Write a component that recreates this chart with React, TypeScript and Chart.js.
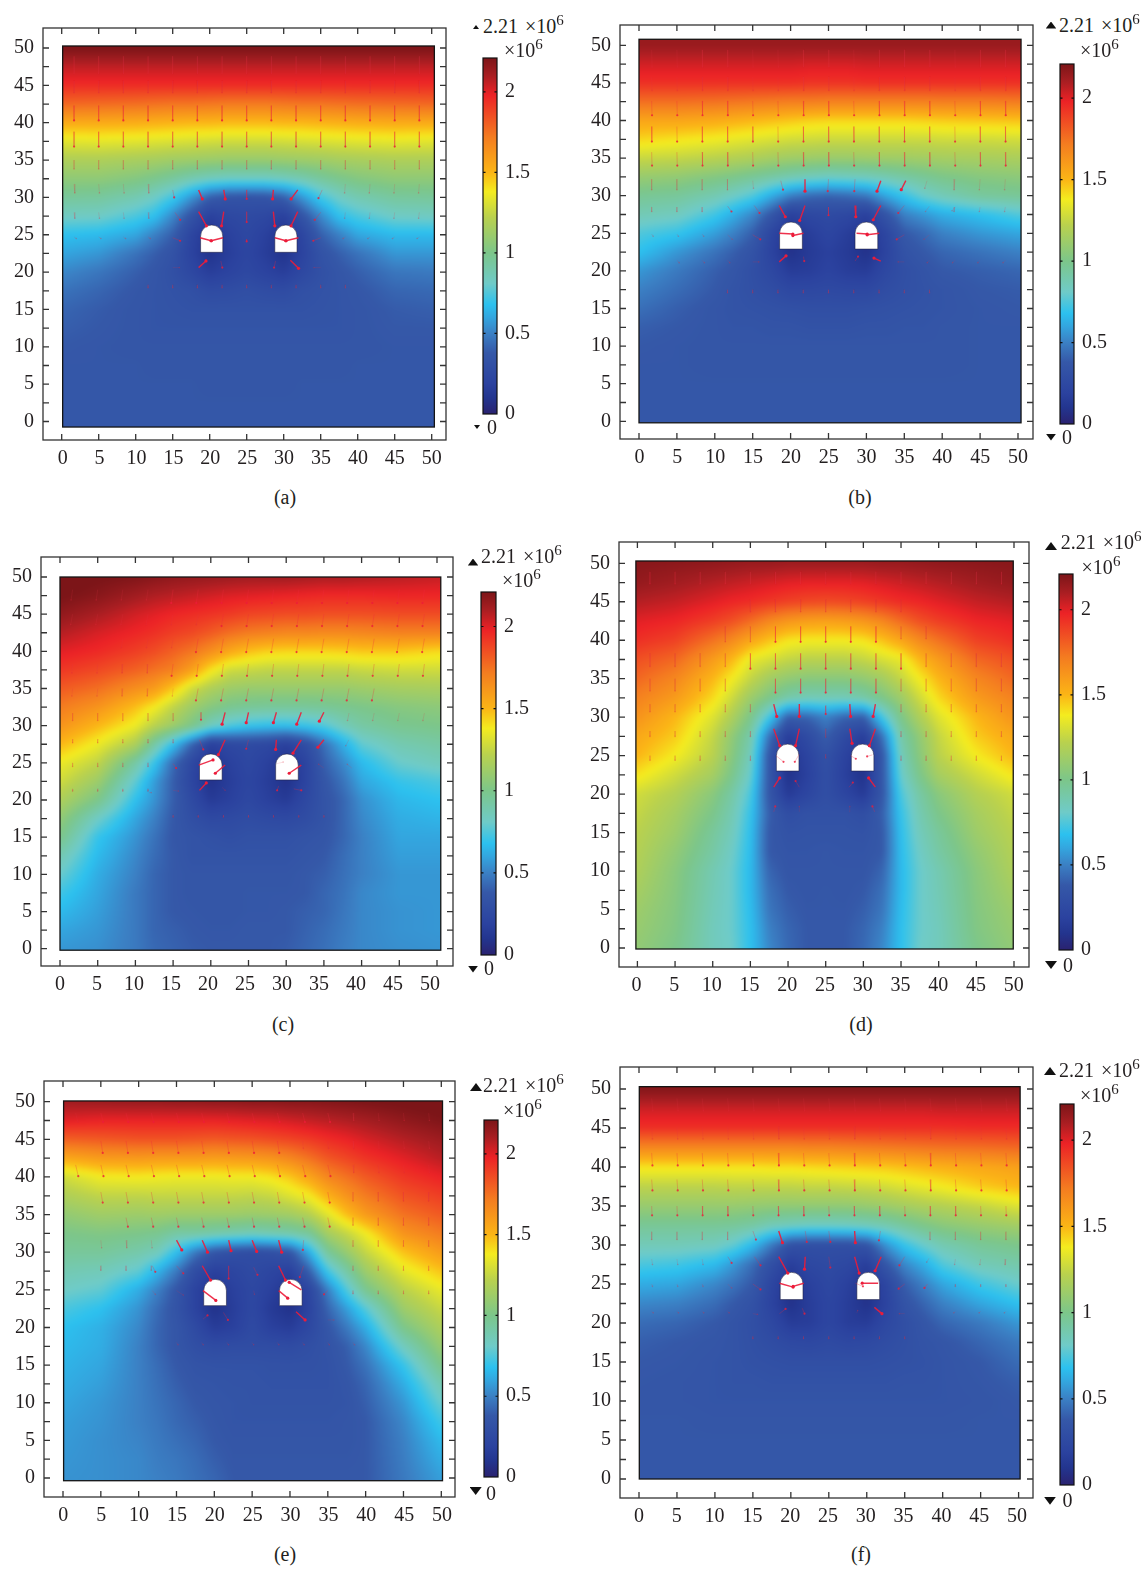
import React, { useEffect, useRef } from "react";
import { Chart, registerables } from "chart.js";

Chart.register(...registerables);

const FONT = '"Liberation Serif", serif';
const INK = "#231f20";

const gridX = [0, 5, 10, 12.5, 15, 17.5, 20, 22.5, 25, 27.5, 30, 32.5, 35, 37.5, 40, 45, 50];
const gridY = [50, 47.5, 45, 42.5, 40, 37.5, 35, 32.5, 30, 27.5, 25, 22.5, 20, 17.5, 15, 12.5, 10, 7.5, 5, 2.5, 0];
const xTickValues = [0, 5, 10, 15, 20, 25, 30, 35, 40, 45, 50];
const yTickValues = [0, 2.5, 5, 7.5, 10, 12.5, 15, 17.5, 20, 22.5, 25, 27.5, 30, 32.5, 35, 37.5, 40, 42.5, 45, 47.5, 50];
const barTickValues = [0, 0.5, 1, 1.5, 2];
const barMax = 2.21;
const arrowCols = [1.67, 5, 8.33, 11.67, 15, 18.33, 21.67, 25, 28.33, 31.67, 35, 38.33, 41.67, 45, 48.33];

const colourValues = [0, 10, 19, 38, 50, 60, 68, 81, 100, 122, 138, 150, 172, 198, 210, 221];
const colourHex = ["#2a2270", "#23358f", "#2b429f", "#3558a8", "#3b80c4", "#33a6df", "#2cc1ef", "#6fcbc8", "#7cc68a", "#b9d14e", "#f4ec1f", "#fbb516", "#f47c20", "#ec2226", "#a91e22", "#7c1518"];

const heatA = [
[221,221,221,221,221,221,221,221,221,221,221,221,221,221,221,221,221],
[206,206,206,206,206,206,206,206,206,206,206,206,206,206,206,206,206],
[195,195,195,195,195,195,195,195,195,195,195,195,195,195,195,195,195],
[178,177,176,175,174,174,173,172,172,172,173,174,174,175,176,177,178],
[154,154,153,152,151,150,150,149,149,149,150,150,151,152,153,154,154],
[133,134,133,132,131,130,129,128,128,128,129,130,131,132,133,134,133],
[118,118,116,115,113,112,111,110,110,110,111,112,113,115,116,118,118],
[107,107,103,99,94,88,84,82,82,82,84,88,94,99,103,107,107],
[95,94,88,82,72,56,40,34,33,34,40,56,72,82,88,94,95],
[83,82,74,68,52,34,18,24,26,24,18,34,52,68,74,82,83],
[68,66,60,50,40,22,10,18,24,18,10,22,40,50,60,66,66],
[60,56,46,40,33,20,9,16,22,16,9,20,33,40,46,56,56],
[52,47,40,36,31,24,16,20,24,20,16,24,31,36,40,47,48],
[46,42,37,35,33,31,27,28,30,28,27,31,33,35,37,42,43],
[42,39,36,35,34,33,33,33,33,33,33,33,34,35,36,39,40],
[40,38,36,35,35,35,35,35,35,35,35,35,35,35,36,38,38],
[38,37,36,36,36,36,36,36,36,36,36,36,36,36,36,37,37],
[37,37,37,36,36,36,36,36,36,36,36,36,36,36,37,37,37],
[37,37,37,37,37,37,36,36,36,36,36,37,37,37,37,37,37],
[37,37,37,37,37,37,37,37,37,37,37,37,37,37,37,37,37],
[37,37,37,37,37,37,37,37,37,37,37,37,37,37,37,37,37],
];
const heatB = [
[214,214,214,214,214,214,214,214,214,214,214,214,214,214,214,214,214],
[203,203,203,203,203,203,203,202,202,202,203,203,203,203,203,203,203],
[194,194,194,194,194,194,194,193,193,193,194,194,194,194,194,194,194],
[176,176,175,174,173,172,171,171,170,170,170,170,170,170,171,171,172],
[156,156,154,152,150,148,146,144,143,143,143,143,143,144,145,146,147],
[143,140,137,135,133,131,129,128,127,127,127,127,127,127,128,128,129],
[126,125,122,120,118,115,113,112,111,111,112,113,113,114,115,116,117],
[110,108,103,100,96,92,88,85,83,84,85,88,92,96,100,104,106],
[97,95,88,82,75,62,50,44,42,44,48,60,70,80,86,94,96],
[87,84,72,62,52,36,18,24,26,24,18,34,50,56,62,68,75],
[75,70,58,50,40,22,10,16,22,16,10,22,38,43,50,56,60],
[68,56,46,40,33,20,8,14,18,14,8,20,33,38,42,46,50],
[56,48,40,36,30,24,15,16,20,16,15,24,30,34,38,40,42],
[50,44,38,34,31,28,24,24,25,24,24,28,31,33,35,38,39],
[45,40,36,34,33,32,31,30,30,30,31,32,33,34,35,37,38],
[40,38,36,35,35,34,34,33,33,33,34,34,35,35,36,37,37],
[38,37,36,36,36,36,36,36,36,36,36,36,36,36,36,37,37],
[37,37,36,36,36,36,36,36,36,36,36,36,36,36,36,37,37],
[37,37,37,37,37,37,37,37,37,37,37,37,37,37,37,37,37],
[37,37,37,37,37,37,37,37,37,37,37,37,37,37,37,37,37],
[37,37,37,37,37,37,37,37,37,37,37,37,37,37,37,37,37],
];
const heatC = [
[225,222,220,218,216,215,214,213,212,212,212,211,210,210,209,207,205],
[222,218,212,209,207,205,203,201,200,199,198,197,196,196,196,197,197],
[216,210,203,200,197,195,193,191,188,187,186,186,185,185,185,186,186],
[208,202,197,194,190,187,182,176,172,170,168,168,167,167,168,170,170],
[200,196,190,186,180,174,165,155,148,144,143,143,143,144,146,146,142],
[192,187,180,175,170,158,140,128,126,124,124,124,124,124,126,128,128],
[182,176,165,160,146,128,118,112,110,110,110,110,110,110,112,115,116],
[172,163,148,138,124,112,104,98,96,95,95,95,96,98,100,104,106],
[163,150,136,122,112,100,84,75,70,68,68,70,75,85,92,98,100],
[150,136,118,92,68,42,18,24,26,24,18,28,45,62,78,88,92],
[136,124,92,70,44,24,10,18,24,18,10,20,40,52,66,80,85],
[128,112,78,58,40,22,8,16,22,16,8,20,36,46,60,70,74],
[118,100,68,55,40,26,14,18,24,18,14,24,34,42,54,65,68],
[108,82,60,50,38,30,25,26,28,26,25,28,34,42,52,62,64],
[100,70,55,46,37,34,32,30,32,32,32,34,36,42,50,60,60],
[88,66,52,44,38,34,34,34,34,34,34,36,38,44,50,58,58],
[80,62,50,42,38,36,36,36,36,36,36,38,40,45,50,56,56],
[72,60,48,42,38,36,36,36,37,37,37,38,42,46,52,56,56],
[66,58,48,42,38,37,36,36,37,37,38,40,42,47,52,55,56],
[60,56,48,42,40,38,37,37,38,38,38,41,44,48,52,55,56],
[56,54,48,43,41,39,38,38,38,38,39,42,45,49,52,54,55],
];
const heatD = [
[218,217,216,215,214,214,213,213,213,213,213,214,214,215,216,217,218],
[215,212,208,206,204,202,200,199,199,199,200,202,204,206,208,212,215],
[208,205,200,197,195,192,189,187,186,187,189,192,195,197,200,205,208],
[200,197,190,185,177,168,162,159,158,159,162,168,177,185,190,197,200],
[194,189,175,167,156,147,140,138,138,138,140,147,156,167,175,189,194],
[185,178,160,150,135,130,125,122,122,122,125,130,135,150,160,178,185],
[178,168,150,138,125,114,108,105,105,105,108,114,125,138,150,168,178],
[170,160,142,128,112,100,90,86,86,86,90,100,112,128,142,160,170],
[163,150,132,118,100,72,40,42,50,42,40,72,100,118,132,150,163],
[155,145,125,108,90,46,16,26,40,26,16,46,90,108,125,145,155],
[150,138,122,105,85,36,10,20,32,20,10,36,85,105,122,138,150],
[140,128,115,100,80,36,8,18,30,18,8,36,80,100,115,128,140],
[128,120,105,92,74,36,14,22,30,22,14,36,74,92,105,120,128],
[125,115,100,88,70,40,29,32,32,32,29,40,70,88,100,115,125],
[122,112,95,85,68,38,33,34,34,34,33,38,68,85,95,112,122],
[120,108,92,82,67,38,35,35,36,35,35,38,67,82,92,108,120],
[118,105,88,80,66,42,36,36,36,36,36,42,66,80,88,105,118],
[115,104,87,80,66,45,38,36,37,36,38,45,66,80,87,104,115],
[112,103,86,80,67,47,40,37,37,37,40,47,67,80,86,103,112],
[110,102,85,80,68,50,42,38,38,38,42,50,68,80,85,102,110],
[108,100,85,81,68,52,43,38,38,38,43,52,68,81,85,100,108],
];
const heatE = [
[212,213,214,214,215,215,216,216,217,217,218,218,219,220,221,223,224],
[200,198,198,198,198,198,198,199,200,201,203,205,207,209,211,216,220],
[180,182,184,184,184,183,182,183,184,186,188,191,195,198,202,208,213],
[155,160,161,160,160,160,159,160,161,163,168,175,183,188,193,200,207],
[128,137,138,137,136,136,136,137,137,140,146,156,168,175,182,192,198],
[118,124,124,125,125,125,125,125,124,126,132,138,152,163,172,184,190],
[108,113,112,113,112,112,112,112,111,112,114,120,133,148,160,175,182],
[100,102,100,98,92,92,90,88,86,88,90,95,115,125,137,163,172],
[95,95,90,85,68,48,35,30,28,30,35,62,95,110,125,147,160],
[88,86,78,64,48,28,18,22,26,22,18,40,72,92,112,134,147],
[82,78,62,50,36,20,10,18,24,18,10,22,50,75,98,122,135],
[74,68,55,44,34,20,8,16,24,14,8,20,42,58,76,112,126],
[68,63,52,42,36,26,15,18,26,18,15,24,36,48,62,100,118],
[66,62,50,42,36,30,27,28,28,28,27,30,34,40,52,84,110],
[64,60,50,44,38,34,33,33,33,32,32,32,33,38,46,70,100],
[62,58,50,45,40,36,35,34,34,33,33,33,33,36,42,62,88],
[60,56,50,46,42,38,36,35,34,34,34,34,34,35,40,56,80],
[58,55,50,47,43,40,37,35,35,35,35,35,35,36,38,52,72],
[57,54,51,48,45,42,38,36,36,36,36,36,36,36,38,50,66],
[56,54,52,49,47,44,40,37,37,37,37,37,37,37,38,49,62],
[55,54,52,50,48,45,42,38,38,38,38,38,38,38,38,48,58],
];
const heatF = [
[219,219,219,219,219,219,219,219,219,219,219,219,219,219,219,219,219],
[204,204,204,204,204,204,204,204,204,204,204,204,204,204,205,205,205],
[194,194,194,194,194,194,194,194,194,194,194,194,194,194,194,195,195],
[168,168,168,168,168,168,168,169,169,170,171,172,173,174,175,176,178],
[140,140,140,140,140,141,141,142,143,144,145,146,148,150,152,155,158],
[123,123,123,124,124,124,124,125,125,126,127,129,132,135,138,145,150],
[110,110,110,110,109,108,108,108,108,108,110,112,115,118,120,125,132],
[96,96,96,95,92,86,84,82,82,83,85,88,94,100,105,110,114],
[86,86,84,78,66,48,32,30,30,30,34,55,70,80,88,96,100],
[74,72,66,56,44,30,16,24,26,24,16,36,52,62,75,86,90],
[62,60,52,46,38,22,10,18,24,18,10,22,40,50,60,72,80],
[52,50,44,38,32,20,8,16,22,16,8,20,34,42,50,60,68],
[44,42,38,34,30,24,15,16,22,16,15,24,30,36,42,48,56],
[40,38,36,34,31,28,25,24,26,24,25,28,31,34,36,42,48],
[38,37,35,34,32,31,30,30,30,30,30,31,32,33,35,38,44],
[37,36,35,34,34,33,33,33,33,33,33,33,34,34,35,37,40],
[36,36,35,35,35,35,35,35,35,35,35,35,35,35,35,36,38],
[37,37,36,36,36,36,36,36,36,36,36,36,36,36,36,37,37],
[37,37,37,37,37,37,37,37,37,37,37,37,37,37,37,37,37],
[37,37,37,37,37,37,37,37,37,37,37,37,37,37,37,37,37],
[37,37,37,37,37,37,37,37,37,37,37,37,37,37,37,37,37],
];

// rows of arrows: [tail y, dx, dy, tier, first column, last column]
const rowsA = [[48.9,0,-2.3,2,0,14],[45.6,0,-1.6,2,0,14],[42.3,0,-2,1,0,14],[38.8,0,-2,1,0,14],[35,0,-1.2,2,0,14],[31.8,0.1,-1.2,2,0,3],[31.8,-0.1,-1.2,2,11,14],[28,0.1,-0.8,2,0,3],[28,-0.1,-0.8,2,11,14],[24.7,0.3,-0.2,2,0,3],[24.7,-0.3,-0.2,2,11,14],[18.3,0,-0.4,2,3,11]];
const spotsA = [[18.5,28.1,19.55,26.2,0],[21.9,28.1,21.6,26.2,0],[28.6,28.1,28.8,26.2,0],[31.9,28.1,31,26.2,0],[25,28.1,25,26.7,1],[18.5,31,19,29.8,0],[21.9,31,22.1,29.8,0],[25,31,25,29.8,1],[28.6,31,28.5,29.8,0],[31.9,31,31,29.8,0],[35.2,31,34.7,29.9,1],[15,31,15.2,30,1],[15.3,28,16,27,1],[35,28,34.2,27,1],[15,24.6,16,24.2,1],[35,24.6,34,24.2,1],[18.7,24.6,20.2,24.2,0],[21.8,24.6,20.2,24.2,0],[28.8,24.6,30.3,24.2,0],[32,24.6,30.3,24.2,0],[25,24.4,25,24.1,1],[18.5,20.6,19.5,21.5,0],[21.5,21.5,21.7,20.6,1],[28.9,21.5,28.7,20.6,1],[30.9,21.6,32,20.5,0],[15,20.6,15.9,20.6,2],[35,20.6,34.1,20.6,2]];
const rowsB = [[49.4,0.05,-2.3,2,0,14],[45.8,0.05,-1.8,2,0,14],[42.6,0.05,-1.9,1,0,14],[39.2,0.03,-2,1,0,14],[35.8,0.05,-1.8,1,0,14],[32.2,0,-1.4,2,0,3],[32.2,-0.1,-1.4,2,12,14],[28.5,0,-0.6,2,0,2],[28.5,-0.1,-0.6,2,12,14],[24.9,0.2,-0.3,2,0,2],[21.4,0.3,-0.3,2,1,3],[21.4,-0.3,-0.3,2,11,14],[17.5,0,-0.4,2,3,11]];
const spotsB = [[18.5,28.7,19.3,27.2,0],[21.9,28.7,21.2,26.7,0],[28.5,28.7,28.6,27.2,0],[31.9,28.7,30.9,26.8,0],[25,28.5,25,27.4,1],[15.2,28.7,15.9,27.7,1],[35,28.7,34.2,27.7,1],[11.7,28.6,12.2,27.9,1],[38.3,28.6,37.8,27.9,2],[41.7,28.5,41.3,28,2],[18.7,32,19,30.8,1],[21.9,32.2,21.9,30.6,0],[25,32.2,24.9,30.6,1],[28.5,32.2,28.4,30.6,1],[31.9,32,31.4,30.6,0],[35.2,32,34.6,30.8,0],[15,32,15.1,31,2],[38,32,37.7,31,2],[15,24.8,16,24.2,1],[35,24.8,34,24.2,1],[11.7,24.8,12.3,24.2,2],[38.3,24.8,37.6,24.2,2],[18.5,25,20.3,24.9,0],[21.7,25,20.3,24.7,0],[28.7,25,30.1,24.9,0],[31.7,25,30.1,24.8,0],[18.5,21.2,19.4,22,0],[21.7,21.9,21.8,21.3,1],[28.5,21.3,28.9,21.9,1],[31.9,21.3,31,21.7,0],[15,21.2,15.8,21.2,2],[35,21.2,34.2,21.2,2]];
const rowsC = [[48.3,-0.2,-1.4,2,0,3],[48.3,-0.25,-1.8,1,4,14],[45,-0.25,-1.4,2,0,5],[45,-0.25,-1.6,1,6,14],[41.7,-0.2,-1.2,2,2,4],[41.7,-0.3,-1.8,1,5,14],[38.3,-0.1,-1.2,2,0,3],[38.3,-0.2,-1.6,1,4,14],[35,-0.1,-1,2,0,4],[35,-0.3,-1.6,1,5,12],[31.7,0,-1,2,0,4],[31.7,-0.2,-1,2,11,14],[28.2,0,-0.5,2,0,4],[25,0,-0.5,2,0,3],[21.5,0,-0.3,2,0,3],[18,0,-0.3,2,4,10]];
const spotsC = [[21.9,28.1,21,26.1,0],[32,28.1,30.9,26.3,0],[28.7,28.1,28.6,26.8,0],[18.5,28.1,19,26.8,1],[25,28.1,24.7,26.9,1],[35,28.1,34.2,27.1,0],[38.3,28.1,37.9,27.3,2],[21.9,31.8,21.5,30.2,0],[25,31.8,24.7,30.4,0],[28.7,31.8,28.3,30.4,0],[32,31.8,31.4,30.2,0],[35,31.8,34.4,30.6,0],[18.7,31.8,18.7,30.8,1],[18.4,24.7,20.3,25.4,0],[21.9,24.7,20.6,23.6,0],[32,24.7,30.4,23.6,0],[28.8,24.9,29.6,25.1,2],[15,24.9,15.4,24.3,1],[35,24.3,34.3,24.8,2],[38.7,24.3,38.1,24.8,2],[18.5,21.3,19.4,22.3,0],[21.5,21.7,21.9,21.3,2],[29,21.9,28.8,21.3,1],[31,21.5,32,21.3,1],[15,21.3,15.7,21.2,2],[11.8,21,12.1,21,2]];
const rowsD = [[48.9,0,-1.6,2,0,14],[45.3,0,-1.6,2,4,10],[41.8,0,-2,2,3,4],[41.8,0,-2,1,5,9],[41.8,0,-1.6,2,10,11],[38.3,0,-1.7,2,0,3],[38.3,0,-2,1,4,10],[38.3,0,-1.7,2,11,14],[35,0,-1.6,2,0,3],[35,0,-1.8,1,5,9],[35,0,-1.6,2,10,14],[31.7,0,-1,2,0,4],[31.7,0,-1,2,10,14],[28.2,0,-0.7,2,0,4],[28.2,0,-0.7,2,10,14],[25,0,-0.6,2,0,4],[25,0,-0.6,2,10,14]];
const spotsD = [[18.1,28.5,18.9,26.3,0],[21.5,28.5,21,26.3,0],[28.2,28.5,28.5,26.6,0],[31.6,28.5,30.8,26.3,0],[18.1,31.7,18.5,30.1,0],[21.5,31.7,21.5,30.1,0],[25,31.5,25,30.4,1],[28.2,31.7,28.3,30.1,0],[31.6,31.7,31.3,30.1,0],[18.4,25,19.4,24.2,1],[21.5,25.2,20.9,24.2,1],[28.3,25,29,24.6,1],[31.2,25.1,30.5,24.9,1],[25,25.2,25,24.7,2],[18.1,20.9,18.9,22.1,0],[21.5,20.9,21,21.7,1],[28.1,20.9,28.6,21.5,1],[31.6,20.9,30.7,22.1,0],[18.1,17.7,18.3,18.4,1],[21.5,17.7,21.5,18.4,2],[28.1,17.7,28.2,18.4,2],[31.5,17.7,31.2,18.4,1],[25,28.5,25,27.4,2]];
const rowsE = [[48.5,0.3,-1.2,2,0,0],[48.5,0.3,-1.2,1,1,10],[48.5,0.1,-1,2,11,14],[44.8,0.25,-1.6,1,1,8],[44.8,0.1,-1,2,9,14],[41.6,0.35,-1.5,1,0,10],[41.6,0.1,-1,2,11,14],[38,0.25,-1.4,1,1,10],[38,0,-1.2,2,11,14],[34.6,0.25,-1.2,1,2,10],[34.6,0,-1,2,11,14],[31.6,0.1,-1,2,1,3],[31.6,0,-0.8,2,11,14],[28.2,0,-0.6,2,1,3],[28.2,0,-0.6,2,11,14],[24.9,0,-0.4,2,11,14],[18,0.2,-0.3,2,4,11]];
const spotsE = [[18.4,28.2,19.5,26.3,0],[21.9,28.2,21.9,26.5,1],[28.5,28.2,29.4,26.3,0],[31.8,28.2,31.3,26.7,1],[15,28.2,15.9,27.2,1],[25.2,28,25.7,27,1],[11.8,28.2,12.2,27.4,1],[15,31.6,15.7,30.3,0],[18.4,31.6,19.1,30,0],[21.9,31.6,22.2,30.2,0],[25,31.6,25.6,30.1,0],[28.5,31.6,28.9,30,0],[31.8,31.6,31.7,30.3,1],[18.5,24.9,20.2,23.6,0],[31.5,25,29.9,26,0],[28.5,24.9,29.7,23.9,0],[18.5,21.1,19.1,21.6,1],[21.2,22,21.8,21,1],[30.8,22.1,32,21,0],[35,21,35.8,21,2],[11.8,24.9,12.2,24.4,2],[15,24.9,15.9,24.3,2],[35,24.9,34.5,24.4,1],[25.2,24.9,25.3,24.4,2]];
const rowsF = [[48.8,0.15,-1.6,2,0,14],[45.2,0.1,-1.6,2,0,14],[41.8,0.1,-1.6,1,0,14],[38.4,0.1,-1.4,1,0,14],[35,0.05,-1.2,1,0,14],[31.7,0,-1,2,0,3],[31.7,0,-1,2,11,14],[28.2,0.1,-0.7,2,0,2],[28.2,-0.1,-0.7,2,12,14],[25,0.1,-0.3,2,0,2],[25,0,-0.3,2,12,14],[21.5,0.2,-0.2,2,0,3],[21.5,-0.2,-0.2,2,12,14],[18.3,0,-0.3,2,4,10]];
const spotsF = [[18.4,28.5,19.6,26.4,0],[21.9,28.5,21.8,26.9,0],[28.4,28.5,29,26.4,0],[31.9,28.5,31.1,26.7,0],[25,28.5,25.2,27.1,1],[15.2,28.5,16,27.4,1],[35,28.5,34.3,27.4,1],[11.7,28.5,12.2,27.7,1],[38.2,28.3,37.9,27.8,2],[15,31.8,15.4,30.7,1],[18.4,31.8,18.9,30.3,0],[21.9,31.8,22.1,30.4,1],[25,31.8,25.2,30.4,1],[28.4,31.8,28.5,30.3,0],[31.8,31.8,31.6,30.6,1],[18.5,25.1,20.3,24.6,0],[21.7,25.1,20.3,24.7,0],[31.5,25.1,29.4,25.1,0],[28.5,25.1,29.5,24.7,1],[15,25,16,24.3,1],[35,25,34.2,24.4,1],[38,25,37.6,24.5,1],[11.7,25,12.2,24.5,2],[18.5,21.2,19.3,21.8,1],[21.5,21.9,21.8,21.2,1],[28.7,21.3,28.8,21.6,2],[31,22,32,21.2,0],[15,21.2,15.6,21.1,2],[35,21.2,34.3,21.2,2]];

const panels = [
  { name: "a", heat: heatA, rows: rowsA, spots: spotsA, tunnels: [20.27, 30.3], floor: 22.65, crown: 26.3,
    box: [43.3, 446.7, 28, 440], xTick: [62, 432], yTick: [421.5, 48], xLabel: [63, 432], field: [0.13, 50.36, -0.74, 50.27],
    bar: [483.3, 497.3, 57.5, 413], lab1: [483, 26], lab2: [504, 50], up: [476, 27, 4], down: [477, 427, 4], zero: [487, 427], cap: [285, 497] },
  { name: "b", heat: heatB, rows: rowsB, spots: spotsB, tunnels: [20.05, 30], floor: 22.9, crown: 26.5,
    box: [620, 1033, 24.7, 439], xTick: [639, 1018], yTick: [421, 45], xLabel: [639.5, 1018], field: [0, 50.4, -0.2, 50.8],
    bar: [1059.7, 1074, 64, 423.5], lab1: [1059, 25], lab2: [1080, 50], up: [1051, 25, 7], down: [1051, 437, 7], zero: [1062, 437], cap: [860, 497] },
  { name: "c", heat: heatC, rows: rowsC, spots: spotsC, tunnels: [20, 30.1], floor: 22.7, crown: 26.2,
    box: [41, 453, 557, 966], xTick: [60, 437], yTick: [948.7, 577], xLabel: [60, 430], field: [0, 50.5, -0.2, 50],
    bar: [481, 495.7, 592, 954.7], lab1: [481, 556], lab2: [502, 580], up: [473, 562, 7], down: [473, 969, 7], zero: [484, 968], cap: [283, 1024] },
  { name: "d", heat: heatD, rows: rowsD, spots: spotsD, tunnels: [19.95, 29.9], floor: 23, crown: 26.5,
    box: [619.3, 1029, 542, 966.7], xTick: [637.7, 1014.3], yTick: [948, 563.3], xLabel: [636.7, 1014], field: [-0.2, 49.9, -0.13, 50.3],
    bar: [1058.6, 1072.5, 574, 950], lab1: [1060.7, 542], lab2: [1081.6, 567], up: [1051, 546, 8], down: [1051, 965, 8], zero: [1063, 965], cap: [861, 1024] },
  { name: "e", heat: heatE, rows: rowsE, spots: spotsE, tunnels: [20.1, 30.1], floor: 22.9, crown: 26.4,
    box: [43.7, 455, 1081, 1496.7], xTick: [62.7, 441], yTick: [1478, 1101.7], xLabel: [63, 441.8], field: [0.08, 50.16, -0.36, 50.1],
    bar: [484, 497.5, 1120, 1476.7], lab1: [483, 1085], lab2: [503, 1110], up: [476, 1087, 8], down: [475.7, 1491, 8], zero: [486, 1493], cap: [285, 1554] },
  { name: "f", heat: heatF, rows: rowsF, spots: spotsF, tunnels: [20.1, 30.2], floor: 23, crown: 26.5,
    box: [620, 1033, 1067, 1497.7], xTick: [639, 1018.6], yTick: [1479, 1089], xLabel: [639, 1017], field: [0.04, 50.2, 0, 50.3],
    bar: [1059.7, 1074, 1104, 1485], lab1: [1059, 1070], lab2: [1080, 1095], up: [1050, 1071, 8], down: [1050, 1500.7, 8], zero: [1062.4, 1500], cap: [861, 1554] },
];

const tierStyle = [
  { color: "rgba(236,28,58,0.9)", head: "rgba(236,28,58,1)", width: 1.4, radius: 1.6 },
  { color: "rgba(236,40,60,0.28)", head: "rgba(236,28,58,0.8)", width: 1, radius: 1.1 },
  { color: "rgba(226,50,70,0.16)", head: "rgba(226,40,60,0.3)", width: 1, radius: 0.8 },
];

function hexRgb(h: string) {
  return [parseInt(h.slice(1, 3), 16), parseInt(h.slice(3, 5), 16), parseInt(h.slice(5, 7), 16)];
}
const colourRgb = colourHex.map(hexRgb);
function colourAt(v: number) {
  if (v <= colourValues[0]) return colourRgb[0];
  for (let i = 1; i < colourValues.length; i++) {
    if (v <= colourValues[i]) {
      const t = (v - colourValues[i - 1]) / (colourValues[i] - colourValues[i - 1]);
      const a = colourRgb[i - 1], b = colourRgb[i];
      return [a[0] + (b[0] - a[0]) * t, a[1] + (b[1] - a[1]) * t, a[2] + (b[2] - a[2]) * t];
    }
  }
  return colourRgb[colourRgb.length - 1];
}
function locate(list: number[], v: number) {
  const asc = list[0] < list[list.length - 1];
  for (let i = 0; i < list.length - 1; i++) {
    const a = list[i], b = list[i + 1];
    if (asc ? v <= b : v >= b) {
      const t = (v - a) / (b - a);
      return [i, Math.max(0, Math.min(1, t))];
    }
  }
  return [list.length - 2, 1];
}
function noPad(s: any) {
  s.paddingTop = 0; s.paddingBottom = 0; s.paddingLeft = 0; s.paddingRight = 0;
}

function heatPlugin(p: any) {
  return {
    id: "field",
    beforeDatasetsDraw(chart: any) {
      const { ctx, chartArea: ca, scales } = chart;
      const sx = scales.x, sy = scales.y;
      const w = Math.ceil(ca.right - ca.left), h = Math.ceil(ca.bottom - ca.top);
      const off = document.createElement("canvas");
      off.width = w; off.height = h;
      const octx = off.getContext("2d")!;
      const img = octx.createImageData(w, h);
      const colIdx = [];
      for (let i = 0; i < w; i++) colIdx.push(locate(gridX, sx.getValueForPixel(ca.left + i + 0.5)));
      for (let j = 0; j < h; j++) {
        const [r, tr] = locate(gridY, sy.getValueForPixel(ca.top + j + 0.5));
        for (let i = 0; i < w; i++) {
          const [c, tc] = colIdx[i];
          const v = (p.heat[r][c] * (1 - tc) + p.heat[r][c + 1] * tc) * (1 - tr) + (p.heat[r + 1][c] * (1 - tc) + p.heat[r + 1][c + 1] * tc) * tr;
          const col = colourAt(v);
          const o = (j * w + i) * 4;
          img.data[o] = col[0]; img.data[o + 1] = col[1]; img.data[o + 2] = col[2]; img.data[o + 3] = 255;
        }
      }
      octx.putImageData(img, 0, 0);
      const fl = sx.getPixelForValue(p.field[0]), fr = sx.getPixelForValue(p.field[1]);
      const fb = sy.getPixelForValue(p.field[2]), ft = sy.getPixelForValue(p.field[3]);
      ctx.save();
      ctx.beginPath();
      ctx.rect(fl, ft, fr - fl, fb - ft);
      ctx.clip();
      ctx.filter = "blur(2.5px)";
      ctx.drawImage(off, ca.left, ca.top);
      ctx.filter = "none";
      ctx.restore();
      // tunnels
      p.tunnels.forEach((cx: number) => {
        const l = sx.getPixelForValue(cx - 1.5), r = sx.getPixelForValue(cx + 1.5);
        const bot = sy.getPixelForValue(p.floor), top = sy.getPixelForValue(p.crown);
        const spring = sy.getPixelForValue(p.crown - 1.5);
        ctx.save();
        ctx.beginPath();
        ctx.moveTo(l, bot);
        ctx.lineTo(l, spring);
        ctx.ellipse((l + r) / 2, spring, (r - l) / 2, spring - top, 0, Math.PI, 2 * Math.PI);
        ctx.lineTo(r, bot);
        ctx.closePath();
        ctx.fillStyle = "#ffffff";
        ctx.fill();
        ctx.lineWidth = 1;
        ctx.strokeStyle = "rgba(30,30,60,0.55)";
        ctx.stroke();
        ctx.restore();
      });
      ctx.save();
      ctx.lineWidth = 1.3;
      ctx.strokeStyle = "#141414";
      ctx.strokeRect(fl, ft, fr - fl, fb - ft);
      ctx.restore();
    },
    afterDraw(chart: any) {
      const { ctx, chartArea: ca, scales } = chart;
      ctx.save();
      ctx.strokeStyle = "#333333";
      ctx.lineWidth = 1.3;
      ctx.strokeRect(ca.left, ca.top, ca.right - ca.left, ca.bottom - ca.top);
      ctx.beginPath();
      scales.x.ticks.forEach((t: any) => {
        const px = scales.x.getPixelForValue(t.value);
        ctx.moveTo(px, ca.top); ctx.lineTo(px, ca.top + 6);
        ctx.moveTo(px, ca.bottom); ctx.lineTo(px, ca.bottom - 6);
      });
      scales.y.ticks.forEach((t: any) => {
        const py = scales.y.getPixelForValue(t.value);
        ctx.moveTo(ca.left, py); ctx.lineTo(ca.left + 6, py);
        ctx.moveTo(ca.right, py); ctx.lineTo(ca.right - 6, py);
      });
      ctx.stroke();
      ctx.restore();
    },
  };
}

function arrowData(p: any, tier: number) {
  const out: any[] = [];
  p.rows.forEach((r: number[]) => {
    if (r[3] !== tier) return;
    for (let c = r[4]; c <= r[5]; c++) {
      out.push({ x: arrowCols[c], y: r[0] }, { x: arrowCols[c] + r[1], y: r[0] + r[2] }, { x: NaN, y: NaN });
    }
  });
  p.spots.forEach((s: number[]) => {
    if (s[4] !== tier) return;
    out.push({ x: s[0], y: s[1] }, { x: s[2], y: s[3] }, { x: NaN, y: NaN });
  });
  return out;
}

function PanelChart({ p }: { p: any }) {
  const ref = useRef<HTMLCanvasElement | null>(null);
  const [L, R, T, B] = p.box;
  const padL = 40, padR = 6, padT = 6, padB = 36;
  const cw = Math.round(R - L) + padL + padR, ch = Math.round(B - T) + padT + padB;
  useEffect(() => {
    const kx = (p.xTick[1] - p.xTick[0]) / 50;
    const ky = (p.yTick[0] - p.yTick[1]) / 50;
    const kl = (p.xLabel[1] - p.xLabel[0]) / 50;
    const right = L + Math.round(R - L);
    const bottom = T + Math.round(B - T);
    const tickFont = { family: FONT, size: 20 };
    const cells: any[] = [];
    gridY.forEach((y, r) => gridX.forEach((x, c) => cells.push({ x, y, v: p.heat[r][c] })));
    const chart = new Chart(ref.current as any, {
      type: "scatter",
      data: {
        datasets: [
          ...[0, 1, 2].map((tier) => ({
            label: "arrows " + tier,
            data: arrowData(p, tier),
            showLine: true,
            borderColor: tierStyle[tier].color,
            borderWidth: tierStyle[tier].width,
            backgroundColor: tierStyle[tier].head,
            pointBorderWidth: 0,
            pointRadius: (c: any) => (c.dataIndex % 3 === 1 ? tierStyle[tier].radius : 0),
          })),
          { label: "stress", data: cells, pointRadius: 0, showLine: false },
        ],
      },
      options: {
        animation: false,
        responsive: false,
        devicePixelRatio: 1,
        layout: { autoPadding: false, padding: { left: 0, right: padR, top: padT, bottom: 0 } },
        plugins: { legend: { display: false }, tooltip: { enabled: false } },
        scales: {
          x: {
            type: "linear",
            position: "bottom",
            min: (L - p.xTick[0]) / kx,
            max: (right - p.xTick[0]) / kx,
            grid: { display: false, drawTicks: false },
            border: { display: false },
            ticks: { display: false },
            afterBuildTicks: (s: any) => { s.ticks = xTickValues.map((value) => ({ value })); },
            afterFit: (s: any) => { s.height = 0; noPad(s); },
          },
          xl: {
            type: "linear",
            axis: "x",
            position: "bottom",
            min: (L - p.xLabel[0]) / kl,
            max: (right - p.xLabel[0]) / kl,
            grid: { display: false, drawTicks: false },
            border: { display: false },
            ticks: { font: tickFont, color: INK, padding: 7, autoSkip: false, maxRotation: 0, minRotation: 0 },
            afterBuildTicks: (s: any) => { s.ticks = xTickValues.map((value) => ({ value })); },
            afterFit: (s: any) => { s.height = padB; noPad(s); },
          },
          y: {
            type: "linear",
            position: "left",
            min: (p.yTick[0] - bottom) / ky,
            max: (p.yTick[0] - T) / ky,
            grid: { display: false, drawTicks: false },
            border: { display: false },
            ticks: {
              font: tickFont, color: INK, padding: 9, autoSkip: false,
              callback: (v: any) => (Number(v) % 5 === 0 ? String(v) : ""),
            },
            afterBuildTicks: (s: any) => { s.ticks = yTickValues.map((value) => ({ value })); },
            afterFit: (s: any) => { s.width = padL; noPad(s); },
          },
        },
      },
      plugins: [heatPlugin(p)],
    } as any);
    return () => chart.destroy();
  }, []);
  return (
    <canvas ref={ref} width={cw} height={ch}
      style={{ position: "absolute", left: L - padL, top: T - padT, width: cw, height: ch, display: "block" }} />
  );
}

function BarChart({ p }: { p: any }) {
  const ref = useRef<HTMLCanvasElement | null>(null);
  const [L, R, T, B] = p.bar;
  const padL = 4, padT = 14, padB = 14, axisW = 48;
  const cw = Math.round(R - L) + padL + axisW, ch = Math.round(B - T) + padT + padB;
  useEffect(() => {
    const chart = new Chart(ref.current as any, {
      type: "bar",
      data: {
        labels: ["stress"],
        datasets: [{
          data: [[0, barMax]],
          barPercentage: 1,
          categoryPercentage: 1,
          borderWidth: 0,
          backgroundColor: (c: any) => {
            const ca = c.chart.chartArea;
            if (!ca) return colourHex[0];
            const g = c.chart.ctx.createLinearGradient(0, ca.bottom, 0, ca.top);
            colourValues.forEach((v, i) => g.addColorStop(v / 221, colourHex[i]));
            return g;
          },
        }],
      },
      options: {
        animation: false,
        responsive: false,
        devicePixelRatio: 1,
        layout: { autoPadding: false, padding: { left: padL, right: 0, top: padT, bottom: padB } },
        plugins: { legend: { display: false }, tooltip: { enabled: false } },
        scales: {
          x: { display: false, grid: { display: false } },
          y: {
            position: "right",
            min: 0,
            max: barMax,
            grid: { display: false, drawTicks: false },
            border: { display: false },
            ticks: { font: { family: FONT, size: 20 }, color: INK, padding: 8, callback: (v: any) => String(v) },
            afterBuildTicks: (s: any) => { s.ticks = barTickValues.map((value) => ({ value })); },
            afterFit: (s: any) => { s.width = axisW; noPad(s); },
          },
        },
      },
      plugins: [{
        id: "barFrame",
        afterDraw(c: any) {
          const { ctx, chartArea: ca, scales } = c;
          ctx.save();
          ctx.strokeStyle = "#111111";
          ctx.lineWidth = 1.2;
          ctx.strokeRect(ca.left, ca.top, ca.right - ca.left, ca.bottom - ca.top);
          ctx.beginPath();
          scales.y.ticks.forEach((t: any) => {
            if (t.value === 0) return;
            const py = scales.y.getPixelForValue(t.value);
            ctx.moveTo(ca.left, py); ctx.lineTo(ca.left + 2.5, py);
            ctx.moveTo(ca.right, py); ctx.lineTo(ca.right - 2.5, py);
          });
          ctx.stroke();
          ctx.restore();
        },
      }],
    } as any);
    return () => chart.destroy();
  }, []);
  return (
    <canvas ref={ref} width={cw} height={ch}
      style={{ position: "absolute", left: L - padL, top: T - padT, width: cw, height: ch, display: "block" }} />
  );
}

const textStyle: any = { position: "absolute", fontFamily: FONT, fontSize: 20, lineHeight: "20px", color: INK, whiteSpace: "nowrap" };
const supStyle: any = { fontSize: 15, position: "relative", top: -8 };

function Triangle({ x, y, s, up }: { x: number; y: number; s: number; up: boolean }) {
  return (
    <div style={{
      position: "absolute", left: x - s * 0.75, top: y - s / 2, width: s * 1.5, height: s, background: "#111",
      clipPath: up ? "polygon(50% 0, 100% 100%, 0 100%)" : "polygon(0 0, 100% 0, 50% 100%)",
    }} />
  );
}

function Panel({ p }: { p: any }) {
  return (
    <>
      <PanelChart p={p} />
      <BarChart p={p} />
      <Triangle x={p.up[0]} y={p.up[1]} s={p.up[2]} up />
      <Triangle x={p.down[0]} y={p.down[1]} s={p.down[2]} up={false} />
      <span style={{ ...textStyle, left: p.lab1[0], top: p.lab1[1] - 10, wordSpacing: 2 }}>2.21 ×10<span style={supStyle}>6</span></span>
      <span style={{ ...textStyle, left: p.lab2[0], top: p.lab2[1] - 10 }}>×10<span style={supStyle}>6</span></span>
      <span style={{ ...textStyle, left: p.zero[0], top: p.zero[1] - 10 }}>0</span>
      <span style={{ ...textStyle, left: p.cap[0], top: p.cap[1] - 10, transform: "translateX(-50%)" }}>({p.name})</span>
    </>
  );
}

export default function App() {
  return (
    <div style={{ position: "absolute", left: 0, top: 0, width: 1146, height: 1570, overflow: "hidden", background: "#fff" }}>
      {panels.map((p) => <Panel key={p.name} p={p} />)}
    </div>
  );
}
